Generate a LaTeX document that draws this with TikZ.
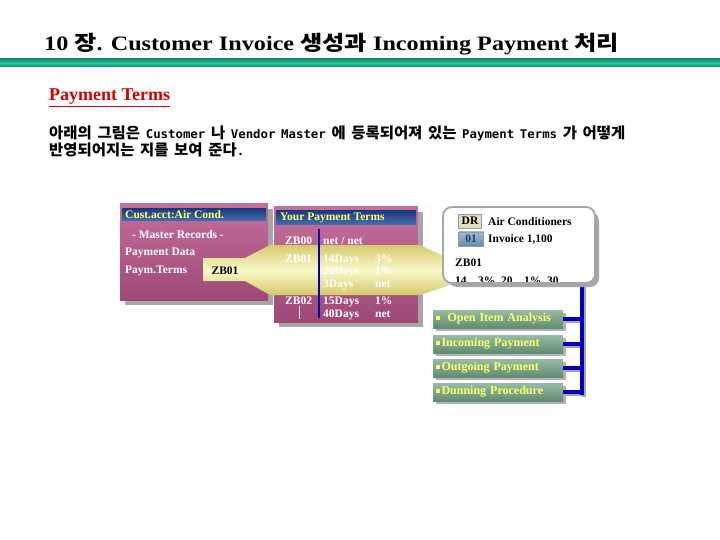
\documentclass[tikz,border=0pt]{standalone}
\usepackage{fontspec}
\setmainfont{Liberation Serif}
\newfontfamily\krfont{Noto Sans CJK KR}
\newfontfamily\monofont{DejaVu Sans Mono}
\usetikzlibrary{shadows}
\definecolor{ruledark}{RGB}{18,140,105}
\definecolor{rulemid}{RGB}{40,190,150}
\definecolor{headred}{RGB}{215,0,0}
\definecolor{boxtop}{RGB}{196,112,155}
\definecolor{boxbot}{RGB}{158,72,118}
\definecolor{barblue}{RGB}{28,58,128}
\definecolor{barlight}{RGB}{70,110,175}
\definecolor{labelyellow}{RGB}{255,255,110}
\definecolor{beamedge}{RGB}{212,202,110}
\definecolor{beammid}{RGB}{250,248,200}
\definecolor{btntop}{RGB}{152,188,162}
\definecolor{btnbot}{RGB}{96,140,114}
\definecolor{busblue}{RGB}{0,0,195}
\definecolor{drfill}{RGB}{226,222,192}
\definecolor{docfill}{RGB}{98,140,172}
\newcommand\kt[1]{{\krfont #1}}
\newcommand\kd[1]{{\krfont\fontsize{15}{16}\selectfont #1}}
\newcommand\sqb{\rule[2pt]{3.5pt}{3.5pt}}
\newcommand\introfont{\bfseries\monofont\fontsize{12}{14}\selectfont\spaceskip=5.5pt\relax}

\begin{document}
\begin{tikzpicture}[x=1pt,y=-1pt,font=\bfseries\fontsize{11.5}{13}\selectfont,
  panel/.style={top color=boxtop,bottom color=boxbot},
  dropgray/.style={fill=black!35},
  bar/.style={top color=barblue,bottom color=barlight},
  bartext/.style={anchor=west,text=labelyellow,inner sep=0pt},
  cell/.style={anchor=base west,text=white,inner sep=0pt},
  intro/.style={anchor=base west,inner sep=0pt,xscale=1.03,font=\introfont},
  btn/.style={top color=btntop,bottom color=btnbot,minimum height=18,text width=124,inner xsep=3,inner ysep=0,align=left,text=labelyellow,font=\bfseries\fontsize{12}{13}\selectfont,drop shadow={shadow xshift=3pt,shadow yshift=-3pt,opacity=.6}},
  bus/.style={busblue,line width=3.5pt},
  busshade/.style={black!35,line width=3.5pt}]
\useasboundingbox (0,0) rectangle (720,540);
\fill[white] (0,0) rectangle (720,540);

\node[anchor=base west,inner sep=0pt,xscale=1.18,font=\bfseries\fontsize{20.5}{24}\selectfont] (title) at (44,51) {10 \kt{장}. Customer Invoice \kt{생성과} Incoming Payment \kt{처리}};
\path[top color=ruledark,bottom color=ruledark,middle color=rulemid] (0,59) rectangle (720,67);

\node[anchor=base west,inner sep=0pt,text=headred,font=\bfseries\fontsize{18}{20}\selectfont] (terms) at (49,101) {\underline{Payment Terms}};
\node[intro] (introA) at (49,139) {\kd{아래의} \kd{그림은} Customer \kd{나} Vendor Master \kd{에} \kd{등록되어져} \kd{있는} Payment Terms \kd{가} \kd{어떻게}};
\node[intro] (introB) at (49,156) {\kd{반영되어지는} \kd{지를} \kd{보여} \kd{준다}.};

\fill[dropgray] (125,209) rectangle (273,305);
\path[panel] (120,204) rectangle (268,300);
\path[bar] (122,209) rectangle (266,221);
\node[bartext] (acct) at (125,215) {Cust.acct:Air Cond.};
\node[cell,anchor=base] (master) at (178,239) {- Master Records -};
\node[cell] (paydata) at (125,255) {Payment Data};
\node[cell] (paymterms) at (125,273) {Paym.Terms};

\fill[dropgray] (279,212) rectangle (423,327);
\path[panel] (274,207) rectangle (418,322);
\path[bar] (276,211) rectangle (416,225);
\node[bartext] (yourterms) at (280,218) {Your Payment Terms};

\path[top color=beamedge,bottom color=beamedge,middle color=beammid] (203,258) -- (245,258) -- (270,245) -- (420,245) -- (456,262) -- (456,283) -- (420,295) -- (270,295) -- (245,281) -- (203,281) -- cycle;
\node[anchor=base,inner sep=0pt] (zbleft) at (225,274) {ZB01};

\draw[busblue,line width=2.5pt] (319,229) -- (319,318);
\draw[white,line width=0.8pt] (299,306) -- (299,319);
\node[cell] (zb00) at (285,244) {ZB00};
\node[cell] (net00) at (323,244) {net / net};
\node[cell] (zb01) at (285,262) {ZB01};
\node[cell] (d14) at (323,262) {14Days};
\node[cell] (p3) at (375,262) {3\%};
\node[cell] (d20) at (323,274) {20Days};
\node[cell] (p1) at (375,274) {1\%};
\node[cell] (d3) at (323,287) {3Days};
\node[cell] (pnet) at (375,287) {net};
\node[cell] (zb02) at (285,304) {ZB02};
\node[cell] (d15) at (323,304) {15Days};
\node[cell] (p1b) at (375,304) {1\%};
\node[cell] (d40) at (323,317) {40Days};
\node[cell] (pnetb) at (375,317) {net};

\node[btn] (openitem) at (498,319) {\sqb\ \ Open Item Analysis};
\node[btn] (incoming) at (498,344) {\sqb\,Incoming Payment};
\node[btn] (outgoing) at (498,368) {\sqb\,Outgoing Payment};
\node[btn] (dunning) at (498,392) {\sqb\,Dunning Procedure};

\coordinate (busTop) at (582,280);
\coordinate (busEnd) at (582,395);
\coordinate (tapA) at (openitem.east -| busTop);
\coordinate (tapB) at (incoming.east -| busTop);
\coordinate (tapC) at (outgoing.east -| busTop);
\coordinate (tapD) at (dunning.east -| busTop);
\draw[busshade] ([shift={(2,2)}]busTop) -- ([shift={(2,2)}]busEnd);
\draw[busshade] ([shift={(2,2)}]openitem.east) -- ([shift={(2,2)}]tapA);
\draw[busshade] ([shift={(2,2)}]incoming.east) -- ([shift={(2,2)}]tapB);
\draw[busshade] ([shift={(2,2)}]outgoing.east) -- ([shift={(2,2)}]tapC);
\draw[busshade] ([shift={(2,2)}]dunning.east) -- ([shift={(2,2)}]tapD);
\draw[bus] (busTop) -- (busEnd);
\draw[bus] (openitem.east) -- (tapA);
\draw[bus] (incoming.east) -- (tapB);
\draw[bus] (outgoing.east) -- (tapC);
\draw[bus] (dunning.east) -- (tapD);

\fill[dropgray,rounded corners=9pt] (448,212) rectangle (599,287);
\fill[white,rounded corners=9pt] (443,207) rectangle (595,283);
\begin{scope}
\clip[rounded corners=9pt] (443,207) rectangle (595,283);
\node[draw=black!40,fill=drfill,minimum width=23,minimum height=14,inner sep=0pt] (drtag) at (470,221) {DR};
\node[anchor=west,inner sep=0pt] (aircon) at (488,222) {Air Conditioners};
\node[draw=black!40,top color=docfill!60!white,bottom color=docfill,minimum width=25,minimum height=14,inner sep=0pt,text=barblue] (doctag) at (471,239) {01};
\node[anchor=west,inner sep=0pt] (invoice) at (488,239) {Invoice 1,100};
\node[anchor=base west,inner sep=0pt] (zbright) at (455,266) {ZB01};
\node[anchor=base west,inner sep=0pt] (termsline) at (455,284) {14\quad 3\%, 20\quad 1\%, 30};
\end{scope}
\draw[black!35,line width=1.8pt,rounded corners=9pt] (443,207) rectangle (595,283);
\end{tikzpicture}
\end{document}
